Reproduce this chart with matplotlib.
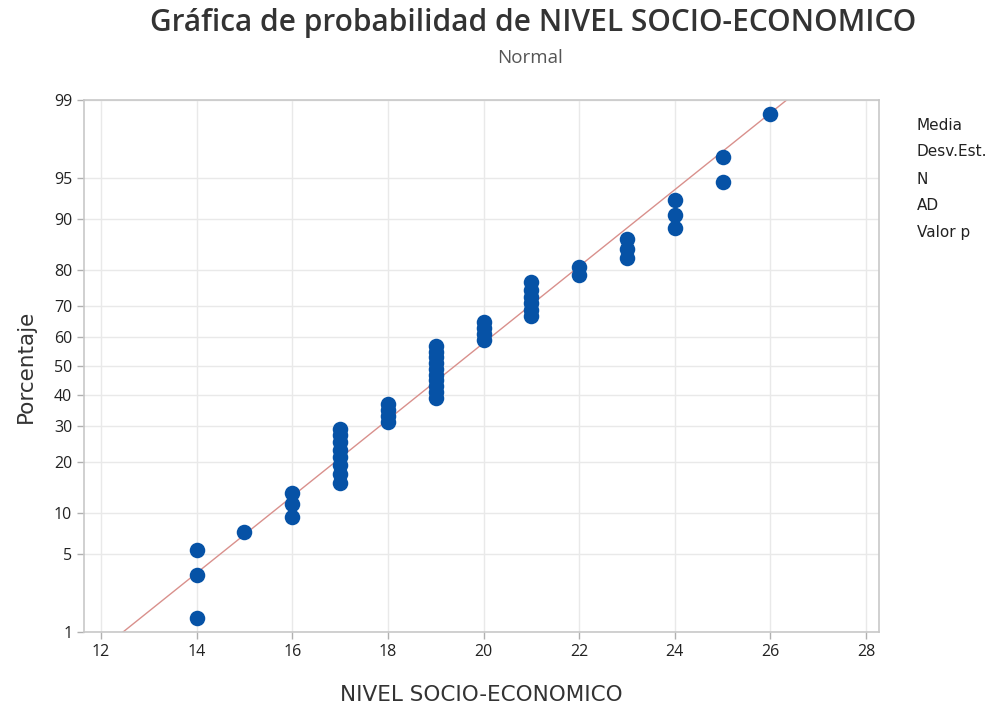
import numpy as np
import matplotlib.pyplot as plt
from statistics import NormalDist

# datos: valor y cuantas veces aparece
valores = [14, 15, 16, 17, 18, 19, 20, 21, 22, 23, 24, 25, 26]
frecuencias = [3, 1, 3, 8, 4, 10, 4, 6, 2, 3, 3, 2, 1]
ticks_pct = [1, 5, 10, 20, 30, 40, 50, 60, 70, 80, 90, 95, 99]
ticks_x = [12, 14, 16, 18, 20, 22, 24, 26, 28]
etiquetas_tabla = ["Media", "Desv.Est.", "N", "AD", "Valor p"]

nd = NormalDist()
datos = np.repeat(valores, frecuencias)
n = len(datos)
# posiciones de Benard como Minitab
rango = np.arange(1, n + 1)
p = (rango - 0.3) / (n + 0.4)
z = np.array([nd.inv_cdf(q) for q in p])

media = datos.mean()
desv = datos.std(ddof=1)

plt.rcParams['font.family'] = ['Open Sans', 'DejaVu Sans']
fig = plt.figure(figsize=(9.95, 7.11), dpi=100)
ax = fig.add_axes([84/995, 1-632/711, (879-84)/995, (632-100)/711])

zl = np.array([nd.inv_cdf(0.005), nd.inv_cdf(0.995)])
ax.plot(media + desv*zl, zl, color='#d9908c', lw=1.0, zorder=2)
ax.scatter(datos, z, s=125, color='#0652a6', zorder=3, linewidths=0)

ax.set_xlim(11.644, 28.27)
ax.set_ylim(nd.inv_cdf(0.01), nd.inv_cdf(0.99))
ax.set_xticks(ticks_x)
ax.set_yticks([nd.inv_cdf(t/100) for t in ticks_pct])
ax.set_yticklabels([str(t) for t in ticks_pct])
ax.grid(True, color='#e9e9e9', lw=1.0, zorder=0)
ax.set_axisbelow(True)
for s in ax.spines.values():
    s.set_color('#c8c8c8')
    s.set_linewidth(1.2)
ax.tick_params(colors='#b0b0b0', labelcolor='#222222', labelsize=11.5, length=5, width=1)

ax.set_xlabel("NIVEL SOCIO-ECONOMICO", fontsize=15.5, color='#333333', labelpad=18,
              family='DejaVu Sans')
ax.set_ylabel("Porcentaje", fontsize=15.5, color='#333333', labelpad=13,
              family='DejaVu Sans')

fig.text(0.536, 1-23/711, "Gráfica de probabilidad de NIVEL SOCIO-ECONOMICO",
         ha='center', va='center', fontsize=21.5, fontweight='semibold', color='#333333')
fig.text(0.533, 1-58/711, "Normal", ha='center', va='center', fontsize=13.5, color='#555555')

for i, t in enumerate(etiquetas_tabla):
    fig.text(917/995, 1-(125+27*i)/711, t, ha='left', va='center', fontsize=11,
             color='#222222', family='DejaVu Sans')

plt.savefig("out.png", dpi=100)
